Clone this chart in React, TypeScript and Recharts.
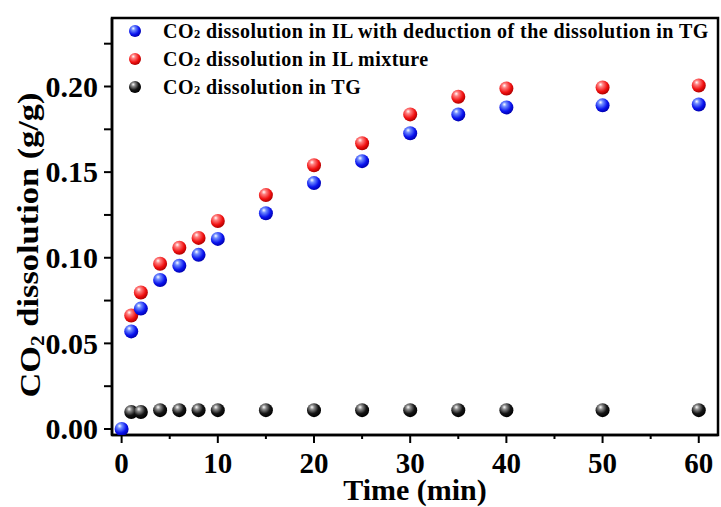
import React from 'react';
import { ScatterChart, Scatter, XAxis, YAxis, Legend } from 'recharts';

// time points (min)
const TIME_IL = [0, 1, 2, 4, 6, 8, 10, 15, 20, 25, 30, 35, 40, 50, 60];
const TIME_MIX = [1, 2, 4, 6, 8, 10, 15, 20, 25, 30, 35, 40, 50, 60];

// CO2 dissolution (g/g)
const IL_DEDUCTED = [0, 0.057, 0.0703, 0.087, 0.0953, 0.1017, 0.111, 0.126, 0.1436, 0.1564, 0.1727, 0.1837, 0.1878, 0.189, 0.1895];
const IL_MIXTURE = [0.0663, 0.0797, 0.0965, 0.1058, 0.1116, 0.1215, 0.1366, 0.154, 0.1669, 0.1837, 0.194, 0.1988, 0.1994, 0.2006];
const TG_ONLY = [0.0099, 0.0099, 0.011, 0.011, 0.011, 0.011, 0.011, 0.011, 0.011, 0.011, 0.011, 0.011, 0.011, 0.011];

const X_TICKS = [0, 5, 10, 15, 20, 25, 30, 35, 40, 45, 50, 55, 60];
const Y_TICKS = [0, 0.025, 0.05, 0.075, 0.1, 0.125, 0.15, 0.175, 0.2, 0.225];
const X_DOMAIN = [-1, 62];
const Y_DOMAIN = [-0.0035, 0.24];

const SERIES = [
    { key: 'deducted', label: ' dissolution in IL with deduction of the dissolution in TG', grad: 'ballBlue' },
    { key: 'mixture', label: ' dissolution in IL mixture', grad: 'ballRed' },
    { key: 'tg', label: ' dissolution in TG', grad: 'ballBlack' },
];

const FONT = '"Liberation Serif", "Times New Roman", serif';
const W = 721;
const H = 507;
const MARGIN = { top: 18, right: 3, bottom: 0, left: 0 };
const Y_AXIS_W = 112;
const X_AXIS_H = 72;

const toPoints = (xs: number[], ys: number[]) => xs.map((x, i) => ({ x, y: ys[i] }));

const Ball = (r: number, grad: string) => (props: any) => {
    if (props.cx == null || props.cy == null) return null;
    return <circle cx={props.cx} cy={props.cy} r={r} fill={`url(#${grad})`} />;
};

const XTick = ({ x, y, payload }: any) => {
    const major = payload.value % 10 === 0;
    return (
        <g>
            <line x1={x} x2={x} y1={y} y2={y + (major ? 8 : 4)} stroke="#000" strokeWidth={2} />
            {major && (
                <text x={x} y={y + 38} textAnchor="middle" fontFamily={FONT} fontWeight="bold" fontSize={29} fill="#000">
                    {payload.value}
                </text>
            )}
        </g>
    );
};

const YTick = ({ x, y, payload }: any) => {
    const major = Math.round(payload.value * 1000) % 50 === 0;
    return (
        <g>
            <line x1={x - 8} x2={x} y1={y} y2={y} stroke="#000" strokeWidth={2} />
            {major && (
                <text x={x - 14} y={y} dy="0.34em" textAnchor="end" fontFamily={FONT} fontWeight="bold" fontSize={30} fill="#000">
                    {payload.value.toFixed(2)}
                </text>
            )}
        </g>
    );
};

const GradDefs = () => (
    <defs>
        <radialGradient id="ballBlue" cx="40%" cy="35%" r="65%" fx="35%" fy="28%">
            <stop offset="0%" stopColor="#ffffff" />
            <stop offset="25%" stopColor="#6f8cff" />
            <stop offset="70%" stopColor="#0a14ee" />
            <stop offset="100%" stopColor="#0000b0" />
        </radialGradient>
        <radialGradient id="ballRed" cx="40%" cy="35%" r="65%" fx="35%" fy="28%">
            <stop offset="0%" stopColor="#ffffff" />
            <stop offset="25%" stopColor="#ff8080" />
            <stop offset="70%" stopColor="#f01010" />
            <stop offset="100%" stopColor="#b00000" />
        </radialGradient>
        <radialGradient id="ballBlack" cx="40%" cy="35%" r="65%" fx="35%" fy="28%">
            <stop offset="0%" stopColor="#ffffff" />
            <stop offset="25%" stopColor="#8a8a8a" />
            <stop offset="65%" stopColor="#151515" />
            <stop offset="100%" stopColor="#000000" />
        </radialGradient>
    </defs>
);

// plot box outline (same geometry as the chart margins / axis sizes)
const Frame = () => (
    <rect
        x={MARGIN.left + Y_AXIS_W}
        y={MARGIN.top}
        width={W - MARGIN.left - MARGIN.right - Y_AXIS_W}
        height={H - MARGIN.top - MARGIN.bottom - X_AXIS_H}
        fill="none"
        stroke="#000"
        strokeWidth={2.5}
    />
);

const LegendBox = () => (
    <div style={{ fontFamily: FONT, fontWeight: 'bold', fontSize: 20, letterSpacing: 0.45, color: '#000' }}>
        {SERIES.map((s) => (
            <div key={s.key} style={{ display: 'flex', alignItems: 'center', height: 28, whiteSpace: 'nowrap' }}>
                <svg width={14} height={14} style={{ marginRight: 21 }}>
                    <circle cx={7} cy={7} r={6} fill={`url(#${s.grad})`} />
                </svg>
                <span>
                    CO<span style={{ fontSize: '0.62em' }}>2</span>
                    {s.label}
                </span>
            </div>
        ))}
    </div>
);

const XLabel = ({ viewBox }: any) => (
    <text x={viewBox.x + viewBox.width / 2} y={500} textAnchor="middle" fontFamily={FONT} fontWeight="bold" fontSize={30} fill="#000">
        Time (min)
    </text>
);

const YLabel = () => {
    const cx = 30;
    const cy = 245;
    return (
        <g transform={`rotate(-90, ${cx}, ${cy})`}>
            <text x={cx} y={cy} dy="0.35em" textAnchor="middle" textLength={305} lengthAdjust="spacingAndGlyphs" fontFamily={FONT} fontWeight="bold" fontSize={29} fill="#000">
                CO<tspan fontSize={18} dy="0.2em">2</tspan>
                <tspan dy="-0.2em"> dissolution (g/g)</tspan>
            </text>
        </g>
    );
};

export default function App() {
    return (
        <div style={{ position: 'absolute', left: 0, top: 0, width: W, height: H, background: '#fff' }}>
            <ScatterChart width={W} height={H} margin={MARGIN}>
                <GradDefs />
                <Frame />
                <XAxis
                    type="number"
                    dataKey="x"
                    domain={X_DOMAIN}
                    ticks={X_TICKS}
                    allowDataOverflow
                    height={X_AXIS_H}
                    tickSize={0}
                    tickMargin={0}
                    tick={<XTick />}
                    tickLine={false}
                    axisLine={{ stroke: '#000', strokeWidth: 2.5 }}
                    label={<XLabel />}
                />
                <YAxis
                    type="number"
                    dataKey="y"
                    domain={Y_DOMAIN}
                    ticks={Y_TICKS}
                    allowDataOverflow
                    width={Y_AXIS_W}
                    tickSize={0}
                    tickMargin={0}
                    tick={<YTick />}
                    tickLine={false}
                    axisLine={{ stroke: '#000', strokeWidth: 2.5 }}
                    label={<YLabel />}
                />
                <Legend
                    layout="vertical"
                    align="center"
                    verticalAlign="middle"
                    wrapperStyle={{ left: 128, top: 17, width: 'auto' }}
                    content={<LegendBox />}
                />
                <Scatter name="tg" data={toPoints(TIME_MIX, TG_ONLY)} shape={Ball(7, 'ballBlack')} isAnimationActive={false} />
                <Scatter name="mixture" data={toPoints(TIME_MIX, IL_MIXTURE)} shape={Ball(7, 'ballRed')} isAnimationActive={false} />
                <Scatter name="deducted" data={toPoints(TIME_IL, IL_DEDUCTED)} shape={Ball(7, 'ballBlue')} isAnimationActive={false} />
            </ScatterChart>
        </div>
    );
}
